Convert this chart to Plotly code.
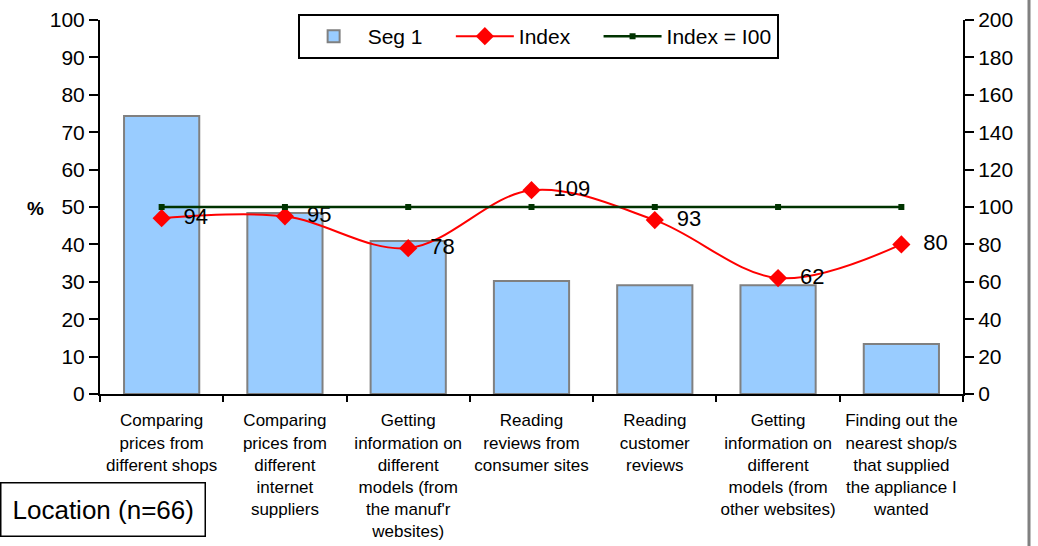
import plotly.graph_objects as go

categories = [
    "Comparing<br>prices from<br>different shops",
    "Comparing<br>prices from<br>different<br>internet<br>suppliers",
    "Getting<br>information on<br>different<br>models (from<br>the manuf'r<br>websites)",
    "Reading<br>reviews from<br>consumer sites",
    "Reading<br>customer<br>reviews",
    "Getting<br>information on<br>different<br>models (from<br>other websites)",
    "Finding out the<br>nearest shop/s<br>that supplied<br>the appliance I<br>wanted",
]
seg1 = [74.3, 48.4, 40.9, 30.2, 29.1, 29.1, 13.4]
index_vals = [94, 95, 78, 109, 93, 62, 80]
index_100 = [100, 100, 100, 100, 100, 100, 100]
legend_names = ["Seg 1", "Index", "Index = I00"]

FONT = "Liberation Sans, Arial, sans-serif"
PAD = "\u00a0" * 4

fig = go.Figure()
fig.add_trace(go.Bar(
    x=categories, y=seg1, name=legend_names[0] + PAD,
    marker=dict(color="#99CCFF", line=dict(color="#808080", width=2)),
    yaxis="y",
))
fig.add_trace(go.Scatter(
    x=categories, y=index_vals, name=legend_names[1] + PAD, yaxis="y2",
    mode="lines+markers+text",
    line=dict(color="#FF0000", width=2, shape="spline", smoothing=1),
    marker=dict(symbol="diamond", size=14, color="#FF0000"),
    text=["  " + str(v) for v in index_vals], textposition="middle right",
    textfont=dict(size=22, color="black", family=FONT),
))
fig.add_trace(go.Scatter(
    x=categories, y=index_100, name=legend_names[2], yaxis="y2",
    mode="lines+markers",
    line=dict(color="#003300", width=2.5),
    marker=dict(symbol="square", size=6, color="#003300"),
))

fig.update_layout(
    width=1038, height=546,
    margin=dict(l=100, r=75, t=20, b=152, autoexpand=False),
    paper_bgcolor="white", plot_bgcolor="white",
    font=dict(family=FONT, size=21, color="black"),
    bargap=0.39,
    showlegend=True,
    legend=dict(
        orientation="h", x=0.229, y=1.016, xanchor="left", yanchor="top",
        bordercolor="black", borderwidth=2, bgcolor="white",
        font=dict(size=21, family=FONT),
        traceorder="normal",
        itemwidth=58,
    ),
    xaxis=dict(
        showline=True, linecolor="black", linewidth=2,
        ticks="outside", ticklen=6, tickwidth=1.5, tickcolor="black",
        tickson="boundaries", tickangle=0, ticklabelstandoff=10,
        tickfont=dict(size=17, family=FONT),
        showgrid=False, automargin=False,
    ),
    yaxis=dict(
        range=[0, 100], dtick=10, showline=True, linecolor="black", linewidth=2,
        ticks="outside", ticklen=9, tickwidth=2, tickcolor="black",
        showgrid=False, zeroline=False, automargin=False,
        tickfont=dict(size=21, family=FONT),
    ),
    yaxis2=dict(
        range=[0, 200], dtick=20, overlaying="y", side="right",
        showline=True, linecolor="black", linewidth=2,
        ticks="outside", ticklen=9, tickwidth=2, tickcolor="black",
        showgrid=False, zeroline=False, automargin=False,
        tickfont=dict(size=21, family=FONT),
    ),
)

fig.add_annotation(
    text="<b>%</b>", xref="paper", yref="paper",
    x=(25 - 100) / 863, y=(394 - 208) / 374, showarrow=False,
    font=dict(size=19, family=FONT),
)
fig.add_annotation(
    text="Location (n=66)", xref="paper", yref="paper",
    x=(0 - 100) / 863, y=(394 - 482) / 374, xanchor="left", yanchor="top",
    showarrow=False, bordercolor="black", borderwidth=1.5, borderpad=11,
    bgcolor="white", font=dict(size=26, family=FONT),
)
fig.add_shape(
    type="line", xref="paper", yref="paper",
    x0=(1029 - 100) / 863, x1=(1029 - 100) / 863,
    y0=(394 - 0) / 374, y1=(394 - 546) / 374,
    line=dict(color="#808080", width=3),
)

fig.write_html("out.html")
